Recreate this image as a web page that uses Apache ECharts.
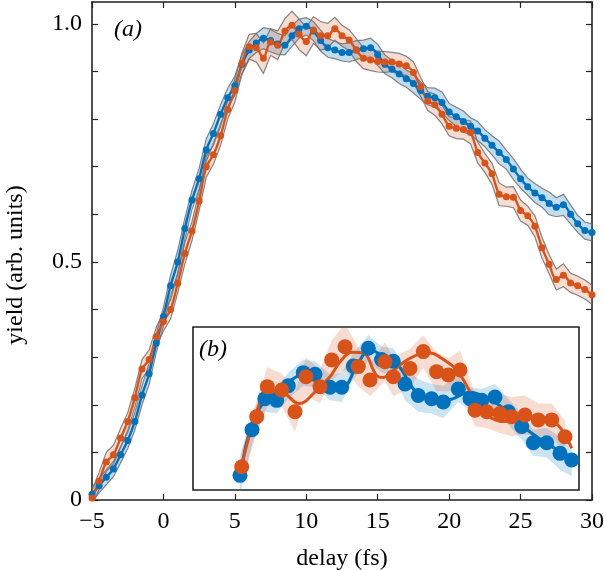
<!DOCTYPE html>
<html>
<head>
<meta charset="utf-8">
<script src="https://cdn.jsdelivr.net/npm/echarts@6/dist/echarts.min.js"></script>
<style>
  html, body { margin: 0; padding: 0; background: #fff; }
  #main { width: 604px; height: 570px; }
</style>
</head>
<body>
<div id="main"></div>
<script>
// main panel (a): delay grid and yields
const delay = [-5,-4.5,-4,-3.5,-3,-2.5,-2,-1.5,-1,-0.5,0,0.5,1,1.5,2,2.5,3,3.5,4,4.5,5,5.5,6,6.5,7,7.5,8,8.5,9,9.5,10,10.5,11,11.5,12,12.5,13,13.5,14,14.5,15,15.5,16,16.5,17,17.5,18,18.5,19,19.5,20,20.5,21,21.5,22,22.5,23,23.5,24,24.5,25,25.5,26,26.5,27,27.5,28,28.5,29,29.5,30];
const blueYield = [
  0.012,0.03,0.048,0.065,0.095,0.125,0.165,0.22,0.265,0.33,
  0.385,0.45,0.5,0.57,0.63,0.675,0.735,0.77,0.81,0.845,
  0.87,0.915,0.945,0.96,0.97,0.965,0.958,0.955,0.975,0.99,
  0.995,0.985,0.965,0.95,0.945,0.94,0.94,0.945,0.948,0.95,
  0.935,0.915,0.905,0.895,0.885,0.875,0.86,0.848,0.845,0.835,
  0.815,0.805,0.795,0.785,0.775,0.76,0.745,0.73,0.715,0.695,
  0.675,0.658,0.645,0.635,0.623,0.615,0.62,0.6,0.58,0.566,0.562];
const orangeYield = [
  0.004,0.04,0.08,0.095,0.13,0.165,0.215,0.275,0.295,0.343,
  0.375,0.4,0.455,0.518,0.565,0.628,0.7,0.725,0.765,0.82,
  0.86,0.917,0.952,0.95,0.928,0.962,0.955,0.985,0.997,0.978,
  0.963,0.987,0.975,0.975,0.99,0.975,0.966,0.945,0.928,0.924,
  0.921,0.92,0.92,0.916,0.912,0.898,0.868,0.838,0.83,0.81,
  0.785,0.781,0.778,0.772,0.73,0.708,0.685,0.642,0.637,0.636,
  0.608,0.597,0.575,0.53,0.495,0.463,0.472,0.456,0.45,0.442,0.431];
const blueErr = [
  0.015,0.015,0.016,0.016,0.017,0.017,0.018,0.02,0.022,0.02,
  0.02,0.022,0.024,0.022,0.02,0.022,0.024,0.02,0.02,0.02,
  0.02,0.02,0.018,0.02,0.022,0.024,0.022,0.02,0.022,0.02,
  0.018,0.02,0.022,0.02,0.018,0.018,0.02,0.02,0.018,0.02,
  0.022,0.02,0.018,0.02,0.018,0.02,0.018,0.018,0.02,0.022,
  0.018,0.02,0.022,0.018,0.02,0.018,0.02,0.024,0.02,0.022,
  0.02,0.018,0.02,0.02,0.024,0.02,0.022,0.02,0.018,0.018,0.018];
const orangeErr = [
  0.016,0.018,0.02,0.02,0.02,0.018,0.02,0.02,0.02,0.02,
  0.02,0.02,0.02,0.022,0.02,0.02,0.022,0.02,0.02,0.02,
  0.024,0.022,0.026,0.03,0.032,0.028,0.03,0.026,0.03,0.032,
  0.03,0.028,0.03,0.026,0.024,0.022,0.022,0.024,0.022,0.022,
  0.022,0.022,0.02,0.022,0.02,0.022,0.02,0.02,0.022,0.02,
  0.02,0.022,0.02,0.024,0.022,0.02,0.022,0.024,0.02,0.022,
  0.022,0.02,0.022,0.022,0.02,0.022,0.024,0.02,0.02,0.02,0.02];

// inset panel (b)
const insetBlueDelay = [5.36,6.2,7.1,7.93,8.74,9.79,10.61,11.66,12.48,13.29,14.34,15.27,16.09,16.91,17.84,18.77,19.59,20.64,21.46,22.28,23.21,24.14,25.08,25.89,26.83,27.76,28.58];
const insetBlueYield = [0.09,0.37,0.56,0.55,0.64,0.72,0.71,0.63,0.63,0.76,0.87,0.8,0.79,0.65,0.58,0.56,0.54,0.62,0.56,0.55,0.57,0.48,0.39,0.29,0.29,0.225,0.184];
const insetBlueErr = [0.12,0.09,0.08,0.08,0.08,0.08,0.08,0.08,0.09,0.08,0.08,0.08,0.08,0.1,0.1,0.09,0.1,0.08,0.07,0.07,0.08,0.08,0.08,0.08,0.09,0.1,0.1];
const insetOrangeDelay = [5.48,6.53,7.27,8.28,9.21,9.98,10.96,11.78,12.71,13.64,14.46,15.51,16.09,17.26,18.19,19.12,19.94,20.76,21.81,22.63,23.56,24.37,25.31,26.24,27.18,28.11];
const insetOrangeYield = [0.143,0.45,0.634,0.613,0.48,0.695,0.634,0.798,0.879,0.757,0.675,0.787,0.695,0.746,0.849,0.726,0.706,0.736,0.49,0.48,0.47,0.45,0.46,0.43,0.43,0.327];
const insetOrangeErr = [0.1,0.1,0.12,0.1,0.12,0.12,0.1,0.12,0.14,0.12,0.1,0.12,0.12,0.12,0.1,0.12,0.1,0.12,0.1,0.1,0.12,0.12,0.12,0.1,0.1,0.1];
const blueFitDelay = [5.36,6.3,7.5,8.86,10.03,11.2,12.6,13.5,14.46,15.4,16.33,17.96,19.83,21.46,22.86,24.0,25.19,26.83,28.46];
const blueFitYield = [0.08,0.43,0.58,0.67,0.716,0.625,0.634,0.757,0.86,0.82,0.777,0.583,0.552,0.6,0.552,0.49,0.388,0.286,0.204];
const orangeFitDelay = [5.4,6.0,6.6,7.2,8.2,9.5,10.6,11.66,12.4,13.2,14.0,14.9,15.4,15.86,16.6,17.26,18.0,18.66,19.6,20.53,21.46,22.16,23.0,23.79,24.5,25.19,26.1,27.06,27.8,28.58];
const orangeFitYield = [0.12,0.33,0.5,0.6,0.6,0.53,0.6,0.695,0.79,0.845,0.84,0.705,0.69,0.716,0.77,0.808,0.835,0.84,0.8,0.736,0.603,0.49,0.44,0.42,0.43,0.45,0.44,0.43,0.38,0.256];

const BLUE = '#0072BD';
const ORANGE = '#D95319';
const FONT = 'Liberation Serif';

function pairs(xs, ys) {
  return xs.map((x, i) => [x, ys[i]]);
}

// shaded error band as one polygon, placed with api.coord
function band(xs, ys, errs, axis, fill, stroke) {
  return {
    type: 'custom',
    xAxisIndex: axis, yAxisIndex: axis,
    silent: true, clip: true,
    data: [[xs[0], ys[0]]],
    encode: { x: 0, y: 1 },
    renderItem: function (params, api) {
      const pts = [];
      for (let i = 0; i < xs.length; i++) pts.push(api.coord([xs[i], ys[i] + errs[i]]));
      for (let i = xs.length - 1; i >= 0; i--) pts.push(api.coord([xs[i], ys[i] - errs[i]]));
      return {
        type: 'polygon',
        shape: { points: pts },
        style: { fill: fill, stroke: stroke || null, lineWidth: stroke ? 1.2 : 0 }
      };
    }
  };
}

const axisLine = { show: true, onZero: false, lineStyle: { color: '#222', width: 1.6 } };
const tick = { show: true, inside: true, length: 6, lineStyle: { color: '#222', width: 1.2 } };

const chart = echarts.init(document.getElementById('main'));
chart.setOption({
  animation: false,
  backgroundColor: '#fff',
  grid: [
    { left: 92, right: 12, top: 2, bottom: 70, outerBoundsMode: 'none', containLabel: false },
    { left: 193, top: 327, width: 386, height: 163, show: true, backgroundColor: '#fff',
      borderColor: '#222', borderWidth: 1.6, outerBoundsMode: 'none', containLabel: false }
  ],
  xAxis: [
    { type: 'value', gridIndex: 0, position: 'bottom', min: -5, max: 30, interval: 5,
      axisLine: axisLine, axisTick: tick, splitLine: { show: false },
      axisLabel: { color: '#000', fontFamily: FONT, fontSize: 24, margin: 10,
        formatter: v => String(v).replace('-', '\u2212') },
      name: 'delay (fs)', nameLocation: 'middle', nameGap: 47,
      nameTextStyle: { color: '#000', fontFamily: FONT, fontSize: 24 } },
    { type: 'value', gridIndex: 0, position: 'top', min: -5, max: 30, interval: 5,
      axisLine: axisLine, axisTick: tick, axisLabel: { show: false }, splitLine: { show: false } },
    { type: 'value', gridIndex: 1, min: 2.07, max: 29.09, show: false }
  ],
  yAxis: [
    { type: 'value', gridIndex: 0, position: 'left', min: 0, max: 1.046, interval: 0.1,
      axisLine: axisLine, axisTick: tick, splitLine: { show: false },
      axisLabel: { color: '#000', fontFamily: FONT, fontSize: 24, margin: 10, showMaxLabel: false,
        formatter: function (v) {
          if (Math.abs(v) < 1e-6) return '0';
          if (Math.abs(v - 0.5) < 1e-6) return '0.5';
          if (Math.abs(v - 1) < 1e-6) return '1.0';
          return '';
        } },
      name: 'yield (arb. units)', nameLocation: 'middle', nameGap: 64,
      nameTextStyle: { color: '#000', fontFamily: FONT, fontSize: 24, padding: [0, 28, 0, 0] } },
    { type: 'value', gridIndex: 0, position: 'right', min: 0, max: 1.046, interval: 0.1,
      axisLine: axisLine, axisTick: tick, axisLabel: { show: false }, splitLine: { show: false } },
    { type: 'value', gridIndex: 1, min: 0, max: 1, show: false }
  ],
  graphic: [
    { type: 'text', left: 114, top: 18, z: 10,
      style: { text: '(a)', font: 'italic 24px "Liberation Serif"', fill: '#000' } },
    { type: 'text', left: 199, top: 338, z: 10,
      style: { text: '(b)', font: 'italic 24px "Liberation Serif"', fill: '#000' } }
  ],
  series: [
    band(delay, blueYield, blueErr, 0, 'rgba(0,114,189,0.24)', 'rgba(110,110,110,0.85)'),
    band(delay, orangeYield, orangeErr, 0, 'rgba(217,83,25,0.2)', 'rgba(110,110,110,0.85)'),
    { type: 'line', xAxisIndex: 0, yAxisIndex: 0, data: pairs(delay, blueYield),
      smooth: 0.3, symbol: 'circle', symbolSize: 7, showSymbol: true,
      lineStyle: { color: BLUE, width: 2.4 }, itemStyle: { color: BLUE } },
    { type: 'line', xAxisIndex: 0, yAxisIndex: 0, data: pairs(delay, orangeYield),
      smooth: 0.3, symbol: 'circle', symbolSize: 7, showSymbol: true,
      lineStyle: { color: ORANGE, width: 2.4 }, itemStyle: { color: ORANGE } },

    band(insetBlueDelay, insetBlueYield, insetBlueErr, 2, 'rgba(0,114,189,0.2)'),
    band(insetOrangeDelay, insetOrangeYield, insetOrangeErr, 2, 'rgba(217,83,25,0.2)'),
    { type: 'line', xAxisIndex: 2, yAxisIndex: 2, data: pairs(blueFitDelay, blueFitYield),
      smooth: 0.4, showSymbol: false, lineStyle: { color: BLUE, width: 3 }, z: 4 },
    { type: 'line', xAxisIndex: 2, yAxisIndex: 2, data: pairs(orangeFitDelay, orangeFitYield),
      smooth: 0.4, showSymbol: false, lineStyle: { color: ORANGE, width: 3 }, z: 4 },
    { type: 'scatter', xAxisIndex: 2, yAxisIndex: 2, data: pairs(insetBlueDelay, insetBlueYield),
      symbolSize: 15, itemStyle: { color: BLUE, opacity: 1 }, z: 5 },
    { type: 'scatter', xAxisIndex: 2, yAxisIndex: 2, data: pairs(insetOrangeDelay, insetOrangeYield),
      symbolSize: 15, itemStyle: { color: ORANGE, opacity: 1 }, z: 5 }
  ]
});
</script>
</body>
</html>
